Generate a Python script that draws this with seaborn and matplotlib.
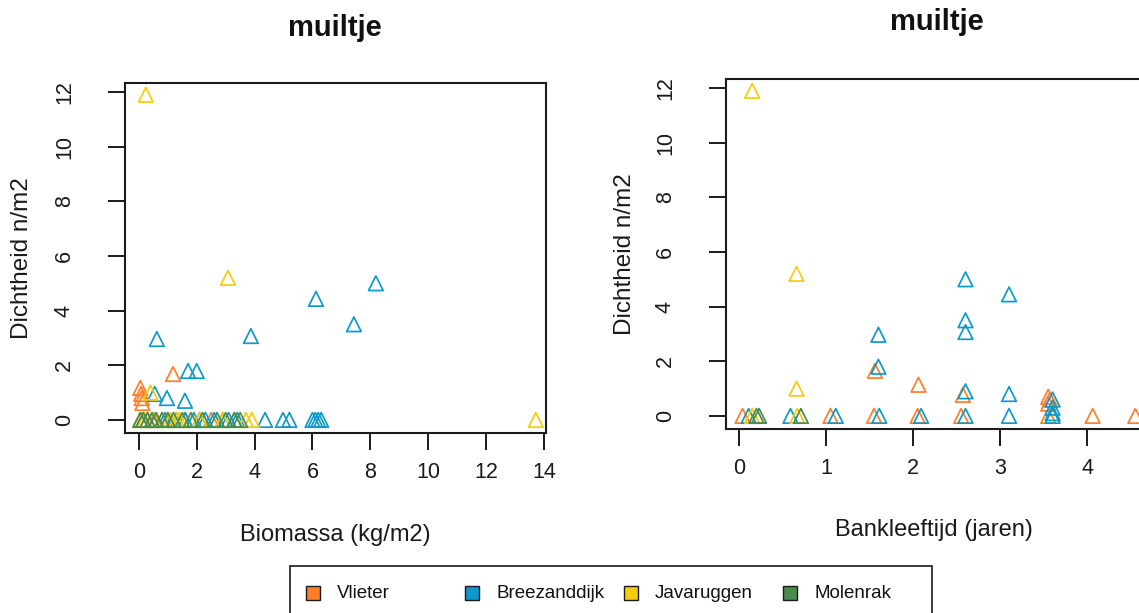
import matplotlib
matplotlib.use("Agg")
import matplotlib.pyplot as plt
from matplotlib.patches import Rectangle
import numpy as np
import pandas as pd
import seaborn as sns

sns.set_style("ticks")
plt.rcParams["font.family"] = ["Liberation Sans", "DejaVu Sans"]

sites = ["Vlieter", "Breezanddijk", "Javaruggen", "Molenrak"]
site_colors = ["#FF7F27", "#0C9ACB", "#F5CC0A", "#4B8B4E"]

# Density against biomass (kg/m2)
vlieter_bio = [0.05, 0.08, 0.10, 0.12, 1.18, 0.05, 0.15, 0.30, 0.55, 1.00, 1.60, 2.50, 3.30]
vlieter_bio_dens = [1.17, 0.95, 0.80, 0.62, 1.68, 0, 0, 0, 0, 0, 0, 0, 0]
breez_bio = [8.19, 6.12, 7.43, 3.87, 0.62, 1.70, 2.00, 0.97, 1.59, 0.55,
             0.50, 0.90, 1.30, 1.60, 1.90, 2.10, 2.30, 2.60, 2.90, 3.10, 3.40,
             4.36, 4.98, 5.20, 6.00, 6.10, 6.20, 6.30]
breez_bio_dens = [5.0, 4.43, 3.5, 3.07, 2.96, 1.79, 1.79, 0.8, 0.7, 0.95,
                  0, 0, 0, 0, 0, 0, 0, 0, 0, 0, 0,
                  0, 0, 0, 0, 0, 0, 0]
java_bio = [0.24, 3.08, 0.40, 0.20, 0.50, 0.80, 1.10, 1.30, 1.40, 2.10, 2.90, 3.70, 3.90, 13.72]
java_bio_dens = [11.9, 5.2, 1.0, 0, 0, 0, 0, 0, 0, 0, 0, 0, 0, 0]
molen_bio = [0.05, 0.15, 0.30, 0.45, 0.60, 0.80, 1.00, 1.20, 1.50, 1.80, 2.20, 2.70, 3.00, 3.30, 3.50]
molen_bio_dens = [0, 0, 0, 0, 0, 0, 0, 0, 0, 0, 0, 0, 0, 0, 0]

# Density against bank age (years)
vlieter_age = [0.04, 1.05, 1.55, 2.05, 2.55, 3.55, 4.06, 4.55, 1.56, 2.06, 2.57, 3.55, 3.57, 3.55]
vlieter_age_dens = [0, 0, 0, 0, 0, 0, 0, 0, 1.65, 1.14, 0.77, 0.70, 0.60, 0.45]
breez_age = [0.11, 0.59, 1.11, 1.61, 2.09, 2.60, 3.10, 3.60, 3.60, 3.60, 3.60,
             2.60, 3.10, 2.60, 2.60, 1.60, 1.60, 2.60, 3.10]
breez_age_dens = [0, 0, 0, 0, 0, 0, 0, 0, 0.1, 0.3, 0.6,
                  5.0, 4.45, 3.5, 3.07, 2.97, 1.8, 0.9, 0.8]
java_age = [0.15, 0.66, 0.66, 0.15, 0.67]
java_age_dens = [11.9, 5.2, 1.0, 0, 0]
molen_age = [0.20, 0.23, 0.71]
molen_age_dens = [0, 0, 0]

x_label_bio = "Biomassa (kg/m2)"
x_label_age = "Bankleeftijd (jaren)"
y_label = "Dichtheid n/m2"
panel_title = "muiltje"
y_ticks = [0, 2, 4, 6, 8, 10, 12]
x_ticks_bio = [0, 2, 4, 6, 8, 10, 12, 14]
x_ticks_age = [0, 1, 2, 3, 4]


def frame(xs, ys, xname):
    rows = []
    for site, xv, yv in zip(sites, xs, ys):
        for a, b in zip(xv, yv):
            rows.append({"site": site, xname: a, "dens": b})
    return pd.DataFrame(rows)


df_bio = frame([vlieter_bio, breez_bio, java_bio, molen_bio],
               [vlieter_bio_dens, breez_bio_dens, java_bio_dens, molen_bio_dens], "bio")
df_age = frame([vlieter_age, breez_age, java_age, molen_age],
               [vlieter_age_dens, breez_age_dens, java_age_dens, molen_age_dens], "age")

W, H = 1139, 613
fig = plt.figure(figsize=(W / 100, H / 100), dpi=100)
ax1 = fig.add_axes([125 / W, 1 - 433 / H, 421 / W, 350 / H])
ax2 = fig.add_axes([726 / W, 1 - 429 / H, 425 / W, 350 / H])
palette = dict(zip(sites, site_colors))


def open_triangles(ax, df, xname):
    sns.scatterplot(data=df, x=xname, y="dens", hue="site", hue_order=sites,
                    palette=palette, marker="^", s=110, linewidth=1.25,
                    legend=False, ax=ax)
    for coll in ax.collections:
        fc = coll.get_facecolors()
        coll.set_edgecolors(fc)
        coll.set_facecolors("none")


open_triangles(ax1, df_bio, "bio")
open_triangles(ax2, df_age, "age")

for ax, xt, xl, lab, xlab_pos, ylab_pos, title_xy in [
        (ax1, x_ticks_bio, (-0.48, 14.07), x_label_bio, (0.5, -0.291), (-0.245, 0.5), (335, 28)),
        (ax2, x_ticks_age, (-0.15, 4.73), x_label_age, (0.49, -0.289), (-0.238, 0.5), (937, 22))]:
    ax.set_xlim(*xl)
    ax.set_ylim(-0.48, 12.33)
    ax.set_xticks(xt)
    ax.set_yticks(y_ticks)
    ax.tick_params(axis="both", direction="out", length=12, width=1.4,
                   labelsize=15.5, colors="#1a1a1a")
    ax.tick_params(axis="x", pad=9)
    ax.tick_params(axis="y", pad=24, labelrotation=90)
    for t in ax.get_yticklabels():
        t.set_va("center")
    for sp in ax.spines.values():
        sp.set_visible(True)
        sp.set_linewidth(1.5)
        sp.set_color("#1a1a1a")
    ax.set_xlabel(lab, fontsize=17, color="#1a1a1a", va="center")
    ax.set_ylabel(y_label, fontsize=17.5, color="#1a1a1a", va="center")
    ax.xaxis.set_label_coords(*xlab_pos)
    ax.yaxis.set_label_coords(*ylab_pos)
    fig.text(title_xy[0] / W, 1 - title_xy[1] / H, panel_title, fontsize=21,
             fontweight="bold", ha="center", va="center", color="#111111")

# Site legend along the bottom
fig.add_artist(Rectangle((290 / W, -0.05), 642 / W, (H - 566) / H + 0.05,
                         transform=fig.transFigure, fill=False,
                         edgecolor="#1a1a1a", linewidth=1.2))
for i, (site, col) in enumerate(zip(sites, site_colors)):
    x0 = 306 + 159 * i
    fig.add_artist(Rectangle((x0 / W, 1 - 600 / H), 14 / W, 14 / H,
                             transform=fig.transFigure, facecolor=col,
                             edgecolor="#1a1a1a", linewidth=1.0))
    fig.text((x0 + 31) / W, 1 - 593 / H, site, fontsize=13.5,
             va="center", ha="left", color="#111111")

fig.savefig("out.png", dpi=100)
